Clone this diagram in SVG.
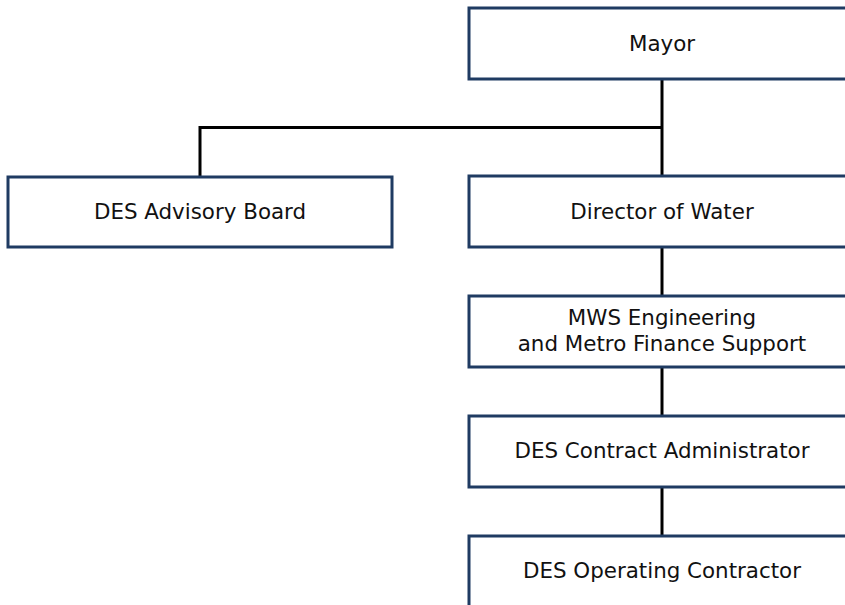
<svg xmlns="http://www.w3.org/2000/svg" width="845" height="605" viewBox="0 0 845 605">
<style>
.box{fill:#ffffff;stroke:#1f3b62;stroke-width:3}
.lbl{font-family:"DejaVu Sans","Liberation Sans",sans-serif;font-size:21.4px;fill:#111111;text-anchor:middle}
.con{stroke:#000000;stroke-width:3;fill:none}
</style>
<rect width="845" height="605" fill="#ffffff"/>
<g id="connectors">
<path class="con" d="M662 79V176"/>
<path class="con" d="M662 127.5H200V177"/>
<path class="con" d="M662 247V296"/>
<path class="con" d="M662 367V416"/>
<path class="con" d="M662 487V536"/>
</g>
<g id="mayor"><rect class="box" x="469" y="8" width="390" height="71"/><text class="lbl" x="662" y="50.7">Mayor</text></g>
<g id="advisory"><rect class="box" x="8" y="177" width="384" height="70"/><text class="lbl" x="200" y="219">DES Advisory Board</text></g>
<g id="director"><rect class="box" x="469" y="176" width="390" height="71"/><text class="lbl" x="662" y="218.7">Director of Water</text></g>
<g id="mws"><rect class="box" x="469" y="296" width="390" height="71"/><text class="lbl" x="662" y="325">MWS Engineering</text><text class="lbl" x="662" y="351">and Metro Finance Support</text></g>
<g id="contract"><rect class="box" x="469" y="416" width="390" height="71"/><text class="lbl" x="662" y="458.4">DES Contract Administrator</text></g>
<g id="operating"><rect class="box" x="469" y="536" width="390" height="80"/><text class="lbl" x="662" y="578.4">DES Operating Contractor</text></g>
</svg>
